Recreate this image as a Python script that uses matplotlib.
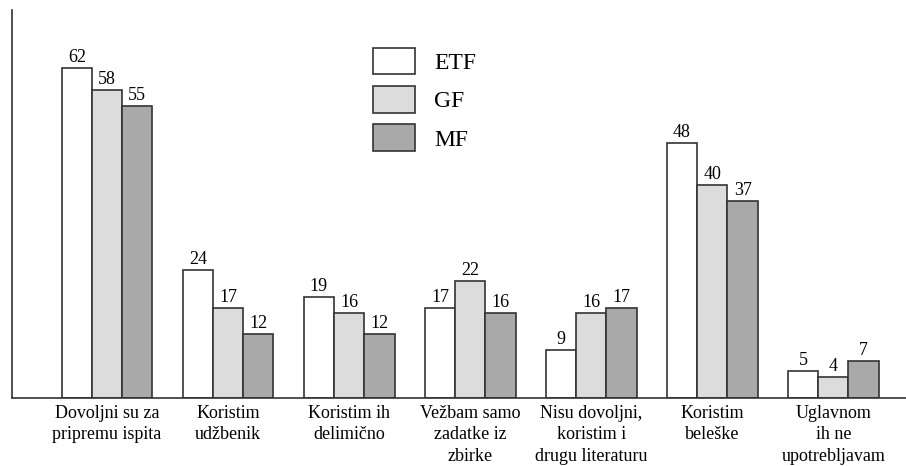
import matplotlib.pyplot as plt
import numpy as np

plt.rcParams['font.family'] = ['Liberation Serif', 'DejaVu Serif']

categories = ['Dovoljni su za\npripremu ispita', 'Koristim\nudžbenik', 'Koristim ih\ndelimično',
              'Vežbam samo\nzadatke iz\nzbirke', 'Nisu dovoljni,\nkoristim i\ndrugu literaturu',
              'Koristim\nbeleške', 'Uglavnom\nih ne\nupotrebljavam']
etf = [62, 24, 19, 17, 9, 48, 5]
gf = [58, 17, 16, 22, 16, 40, 4]
mf = [55, 12, 12, 16, 17, 37, 7]
series = [('ETF', etf, '#ffffff'), ('GF', gf, '#dcdcdc'), ('MF', mf, '#a9a9a9')]

fig = plt.figure(figsize=(9.06, 4.66), dpi=100)
ax = fig.add_axes([12 / 906, 68 / 466, 894 / 906, 388 / 466])

x = np.arange(len(categories))
w = 0.25
handles = []
for i, (name, vals, col) in enumerate(series):
    bars = ax.bar(x + (i - 1) * w, vals, w, color=col, edgecolor='#333333', linewidth=1.2, label=name)
    handles.append(bars)
    for b, v in zip(bars, vals):
        ax.text(b.get_x() + b.get_width() / 2, v + 0.4, str(v), ha='center', va='bottom', fontsize=13)

ax.set_xlim(-0.785, 6.6)
ax.set_ylim(0, 73)
ax.set_yticks([])
ax.set_xticks(x)
ax.set_xticklabels(categories, fontsize=13, linespacing=1.35)
ax.tick_params(axis='x', length=0, pad=5)
for s in ['top', 'right']:
    ax.spines[s].set_visible(False)
for s in ['left', 'bottom']:
    ax.spines[s].set_color('#333333')
    ax.spines[s].set_linewidth(1.2)

ax.legend(handles=handles, loc='upper left', bbox_to_anchor=(0.385, 0.945), frameon=False,
          fontsize=17, handlelength=1.8, handleheight=1.35, handletextpad=0.8, labelspacing=0.5,
          borderpad=0.2)

fig.savefig('out.png', dpi=100)
